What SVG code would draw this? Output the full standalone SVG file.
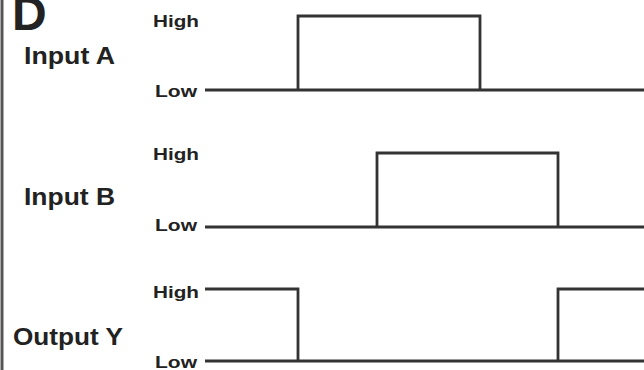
<svg xmlns="http://www.w3.org/2000/svg" width="644" height="370" viewBox="0 0 644 370">
<style>
.lbl{font-family:"Liberation Sans",Arial,sans-serif;font-weight:bold;fill:#222;}
.big{font-size:23px;}
.lv{font-size:17px;}
.wave{fill:none;stroke:#333;stroke-width:2.8;stroke-linejoin:miter;}
</style>
<rect width="644" height="370" fill="#ffffff"/>
<line x1="2" y1="0" x2="2" y2="370" stroke="#555" stroke-width="3"/>
<text class="lbl" x="12" y="30" font-size="48">D</text>
<g id="inputA">
<text class="lbl big" x="24" y="64" textLength="91" lengthAdjust="spacingAndGlyphs">Input A</text>
<text class="lbl lv" x="153" y="27" textLength="46" lengthAdjust="spacingAndGlyphs">High</text>
<text class="lbl lv" x="155" y="97" textLength="42" lengthAdjust="spacingAndGlyphs">Low</text>
</g>
<g id="inputB">
<text class="lbl big" x="24" y="205" textLength="91" lengthAdjust="spacingAndGlyphs">Input B</text>
<text class="lbl lv" x="153" y="160" textLength="46" lengthAdjust="spacingAndGlyphs">High</text>
<text class="lbl lv" x="155" y="231" textLength="42" lengthAdjust="spacingAndGlyphs">Low</text>
</g>
<g id="outputY">
<text class="lbl big" x="13" y="345" textLength="110" lengthAdjust="spacingAndGlyphs">Output Y</text>
<text class="lbl lv" x="153" y="298" textLength="46" lengthAdjust="spacingAndGlyphs">High</text>
<text class="lbl lv" x="155" y="368" textLength="42" lengthAdjust="spacingAndGlyphs">Low</text>
</g>
<g id="waveforms">
<path class="wave" d="M205 90 H644"/>
<path class="wave" d="M298 90 V16 H480 V90"/>
<path class="wave" d="M205 227 H644"/>
<path class="wave" d="M377 227 V153 H558 V227"/>
<path class="wave" d="M205 289 H298 V361"/>
<path class="wave" d="M205 361 H644"/>
<path class="wave" d="M558 361 V289 H644"/>
</g>
</svg>
